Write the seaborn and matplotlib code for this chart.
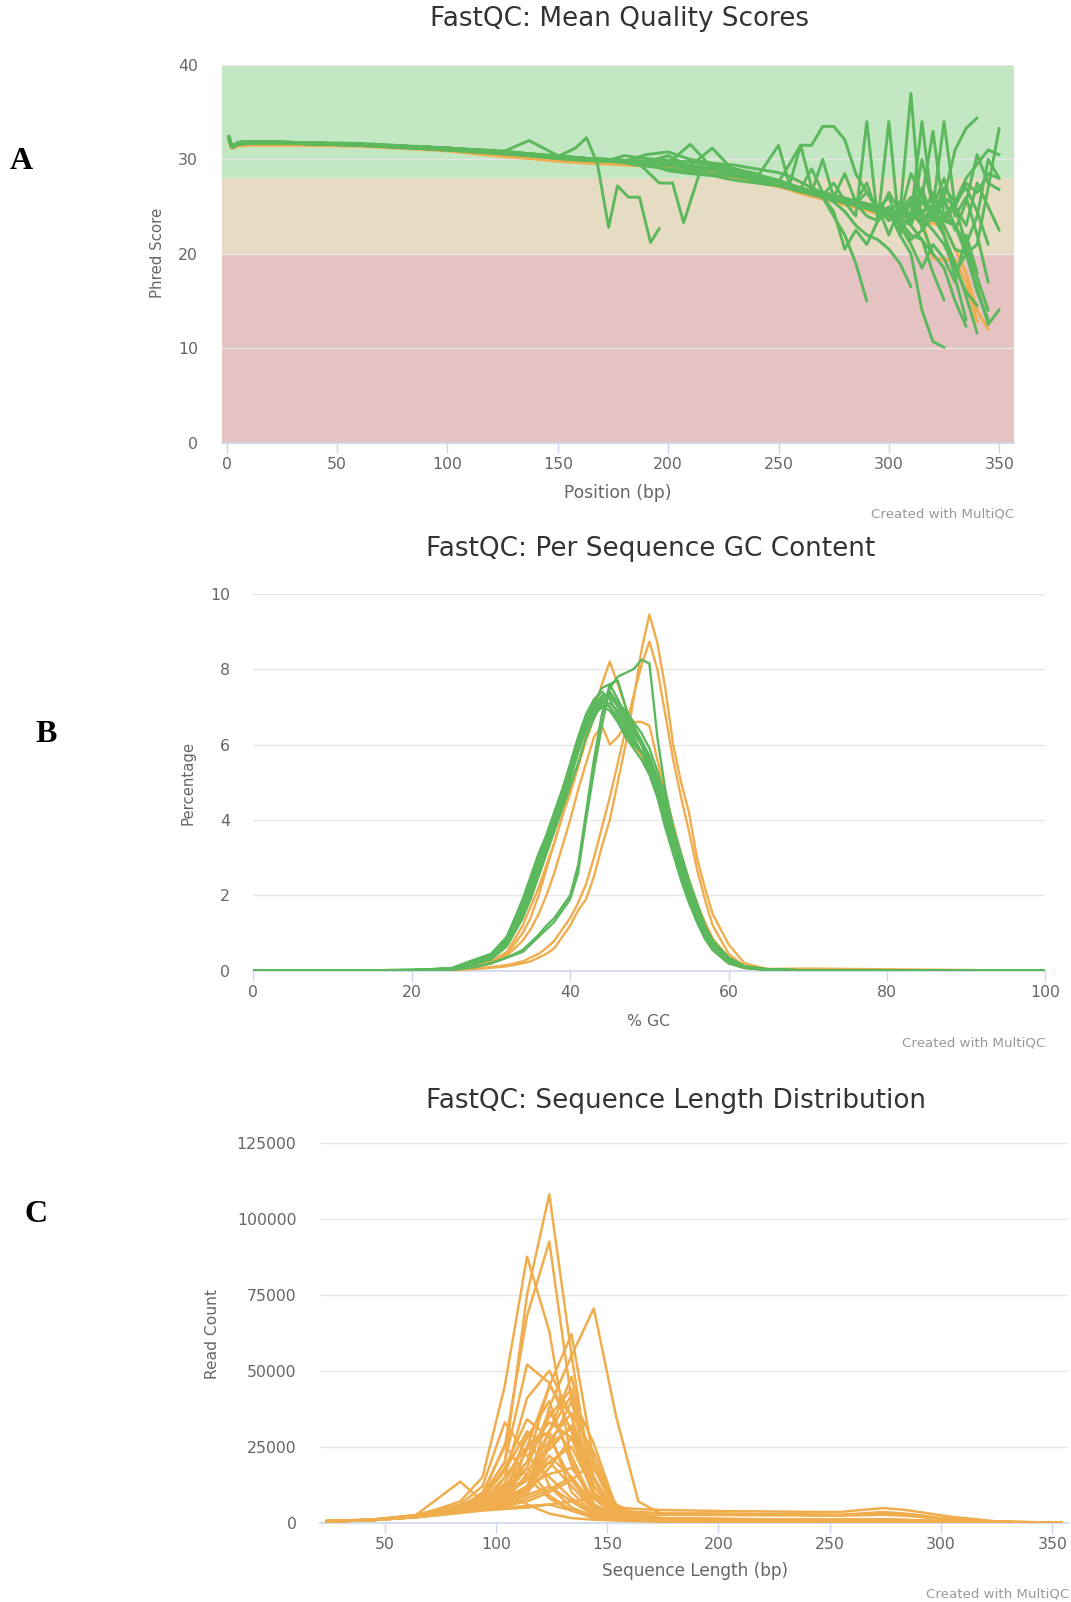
import matplotlib
matplotlib.use("Agg")
import matplotlib.pyplot as plt
import seaborn as sns
import pandas as pd

sns.set_theme(style="white")
plt.rcParams['font.family'] = ['DejaVu Sans']

GREEN = "#5cb85c"
ORANGE = "#f0ad4e"

# ---------------- Panel A: mean quality scores ----------------
A_X = [1, 2, 3, 5, 10, 30, 60, 100, 125, 137,
       150, 163, 173, 180, 190, 200, 210, 220, 230, 240,
       250, 255, 260, 265, 270, 275, 280, 285, 290, 295,
       300, 305, 310, 315, 320, 325, 330, 335, 340, 345, 350]

qa_g01_x = [1, 2, 3, 5, 10, 30, 60, 100, 125, 137, 150, 158, 163, 168, 173, 177, 182, 187, 192, 196]
qa_g01 = [32.4, 31.5, 31.3, 31.7, 31.8, 31.8, 31.6, 31.2, 30.8, 30.6, 30.3, 31.2, 32.3, 29.5, 22.8, 27.2, 26.0, 26.0, 21.2, 22.7]
qa_g02_x = [1, 2, 3, 5, 10, 30, 60, 100, 125, 137, 150, 163, 175, 188, 192, 196, 202, 207, 214, 220,
            230, 240, 250, 255, 260, 265, 270, 275, 280, 285, 290, 295, 300, 305, 310, 315, 320, 325, 330, 335, 340]
qa_g02 = [32.2, 31.4, 31.5, 31.8, 31.9, 31.8, 31.6, 31.2, 30.9, 30.6,
          30.4, 30.1, 29.9, 29.3, 28.4, 27.5, 27.5, 23.3, 28.4, 29.6,
          29.0, 28.4, 27.8, 27.4, 27.0, 26.6, 26.3, 26.0, 25.7, 25.4,
          25.0, 24.6, 24.3, 24.0, 25.2, 23.8, 22.5, 21.0, 18.5, 16.0, 14.5]

qa_g03 = [32.5, 31.6, 31.3, 31.8, 31.9, 31.8, 31.7, 31.2, 30.8, 32.0,
          30.4, 30.1, 30.0, 29.9, 29.8, 29.6, 29.3, 29.1, 28.7, 28.2,
          27.6, 27.3, 26.9, 26.6, 26.3, 26.0, 25.7, 25.4, 25.1, 24.8,
          24.5, 24.3, 37.0, 22.5, 24.0, 25.5, 23.0, 20.5, 16.0, 13.0]
qa_g04 = [32.1, 31.4, 31.5, 31.6, 31.7, 31.7, 31.5, 31.0, 30.6, 30.4,
          30.1, 29.9, 29.8, 29.7, 29.6, 30.4, 29.1, 28.9, 28.5, 28.0,
          27.4, 27.1, 26.7, 26.4, 26.1, 25.8, 25.5, 24.0, 34.0, 23.5,
          24.5, 25.5, 23.0, 26.5, 24.0, 27.0, 25.5, 28.0, 29.5, 31.0, 30.5]
qa_g05 = [32.3, 31.5, 31.4, 31.7, 31.8, 31.7, 31.6, 31.1, 30.7, 30.5,
          30.2, 30.0, 29.9, 29.8, 29.7, 30.4, 29.2, 29.0, 28.6, 28.1,
          27.5, 27.2, 26.8, 26.5, 26.2, 25.9, 25.6, 25.3, 24.0, 23.5,
          34.0, 22.0, 24.5, 23.0, 20.0, 18.5, 15.0, 12.3]
qa_g06 = [32.4, 31.6, 31.4, 31.7, 31.9, 31.8, 31.6, 31.1, 30.8, 30.5,
          30.3, 30.1, 30.0, 29.9, 29.8, 29.6, 31.6, 29.1, 28.7, 28.2,
          27.7, 27.3, 27.0, 26.7, 26.4, 26.1, 25.8, 25.5, 25.2, 24.9,
          24.6, 24.3, 24.0, 34.0, 24.5, 26.0, 25.0, 27.5, 26.5, 28.5, 28.0]
qa_g07 = [32.2, 31.5, 31.3, 31.7, 31.8, 31.7, 31.6, 31.2, 30.7, 30.5,
          30.2, 30.0, 29.9, 29.8, 29.7, 29.5, 29.3, 31.2, 28.7, 28.1,
          27.5, 27.2, 26.8, 26.5, 26.2, 25.9, 25.6, 25.3, 25.0, 24.7,
          24.4, 24.2, 25.5, 26.0, 33.0, 24.0, 25.5, 27.0, 24.5, 21.0]
qa_g08 = [32.3, 31.5, 31.4, 31.6, 31.8, 31.7, 31.6, 31.1, 30.7, 30.5,
          30.2, 30.0, 29.9, 29.8, 30.5, 30.8, 30.0, 29.6, 29.0, 28.4,
          27.5, 27.1, 26.8, 26.5, 26.3, 26.0, 25.8, 25.5, 25.2, 24.9,
          23.5, 24.5, 26.0, 24.5, 25.0, 34.0, 25.0, 23.0, 27.5, 25.0, 22.5]
qa_g09 = [32.4, 31.5, 31.4, 31.7, 31.8, 31.7, 31.6, 31.1, 30.8, 30.6,
          30.3, 30.1, 29.9, 29.8, 29.6, 29.4, 29.2, 28.9, 28.5, 28.0,
          31.5, 27.3, 26.9, 26.6, 26.3, 26.1, 25.8, 25.5, 25.2, 25.0,
          24.7, 24.5, 24.3, 25.5, 24.5, 26.0, 31.0, 33.3, 34.4]
qa_g10 = [32.3, 31.6, 31.4, 31.7, 31.8, 31.7, 31.6, 31.2, 30.8, 30.5,
          30.3, 30.1, 29.9, 29.8, 29.7, 29.5, 29.3, 29.0, 28.7, 28.2,
          27.6, 29.5, 31.5, 31.5, 33.5, 33.5, 32.1, 28.5, 26.5, 25.0,
          24.0, 23.5, 22.0, 21.5, 20.0]
qa_g11 = [32.2, 31.4, 31.3, 31.6, 31.7, 31.7, 31.5, 31.0, 30.6, 30.4,
          30.1, 29.9, 29.8, 29.7, 29.6, 29.4, 29.1, 28.9, 28.5, 28.0,
          27.4, 27.0, 26.6, 26.3, 26.0, 24.0, 22.0, 19.0, 15.0]
qa_g12 = [32.3, 31.5, 31.4, 31.7, 31.8, 31.7, 31.6, 31.1, 30.7, 30.5,
          30.2, 30.0, 29.9, 29.8, 29.7, 29.5, 29.2, 29.0, 28.6, 28.1,
          27.5, 27.1, 26.7, 26.4, 26.1, 25.5, 24.5, 23.0, 22.0, 21.5,
          20.5, 19.0, 16.5]
qa_g13 = [32.4, 31.5, 31.4, 31.8, 31.9, 31.8, 31.6, 31.2, 30.8, 30.6,
          30.3, 30.1, 30.0, 29.8, 29.7, 29.5, 29.3, 29.0, 28.7, 28.2,
          27.6, 27.2, 26.9, 26.6, 26.3, 26.0, 25.7, 25.4, 25.1, 24.8,
          24.5, 22.0, 20.0, 14.0, 10.7, 10.1]
qa_g14 = [32.2, 31.5, 31.3, 31.7, 31.8, 31.7, 31.5, 31.1, 30.7, 30.4,
          30.2, 30.0, 29.9, 29.8, 29.6, 28.8, 28.5, 28.3, 27.8, 27.5,
          27.2, 26.9, 26.6, 26.4, 26.1, 25.8, 25.5, 25.2, 24.8, 24.5,
          24.2, 23.8, 23.0, 21.5, 18.0, 15.1]
qa_g15 = [32.3, 31.5, 31.4, 31.7, 31.8, 31.7, 31.6, 31.1, 30.7, 30.5,
          30.2, 30.0, 29.9, 29.8, 29.7, 29.5, 29.2, 29.0, 28.6, 28.1,
          27.5, 27.2, 26.8, 26.6, 26.3, 26.0, 25.7, 25.4, 25.1, 24.8,
          24.5, 24.2, 24.0, 24.5, 25.0, 24.0, 23.0, 20.0, 16.5, 12.5, 14.1]
qa_g16 = [32.4, 31.6, 31.4, 31.7, 31.9, 31.8, 31.6, 31.2, 30.8, 30.5,
          30.3, 30.0, 29.9, 29.8, 29.7, 29.5, 29.8, 29.6, 29.4, 29.0,
          28.6, 28.2, 27.6, 27.0, 26.2, 26.0, 25.7, 25.4, 25.1, 24.8,
          24.6, 24.4, 24.3, 25.5, 24.0, 22.0, 19.0, 15.5, 11.6]
qa_g17 = [32.3, 31.5, 31.4, 31.7, 31.8, 31.7, 31.6, 31.1, 30.7, 30.5,
          30.2, 30.0, 29.9, 29.8, 29.7, 29.5, 29.2, 29.0, 28.6, 28.1,
          27.5, 27.2, 26.9, 29.0, 26.5, 26.2, 25.9, 25.6, 25.3, 25.0,
          22.0, 25.0, 24.0, 27.0, 23.5, 26.0, 22.5, 25.5, 30.5, 27.5, 26.8]
qa_g18 = [32.2, 31.5, 31.3, 31.7, 31.8, 31.7, 31.6, 31.1, 30.7, 30.5,
          30.2, 30.0, 29.9, 29.8, 29.7, 29.5, 29.2, 29.0, 28.6, 28.1,
          27.5, 27.2, 26.8, 26.5, 26.2, 27.5, 25.6, 25.3, 26.5, 24.7,
          24.4, 24.2, 24.0, 23.5, 25.0, 23.0, 20.5, 20.0, 21.0, 27.0, 33.3]
qa_g19 = [32.3, 31.5, 31.4, 31.7, 31.8, 31.7, 31.6, 31.1, 30.7, 30.5,
          30.2, 30.0, 29.9, 29.8, 29.3, 29.0, 28.8, 28.5, 28.2, 27.8,
          27.3, 27.0, 26.8, 26.5, 26.2, 25.9, 25.6, 25.3, 25.0, 24.7,
          24.4, 23.0, 21.5, 22.5, 25.5, 22.0, 18.0, 20.0, 16.0, 13.0]
qa_g20 = [32.3, 31.5, 31.4, 31.7, 31.8, 31.7, 31.6, 31.1, 30.7, 30.5,
          30.2, 30.0, 29.9, 29.8, 29.7, 29.5, 29.2, 29.0, 28.6, 28.1,
          27.5, 27.2, 26.8, 26.5, 26.0, 24.5, 20.5, 22.5, 21.0, 23.5,
          25.0, 24.0, 28.5, 26.0, 24.0, 22.0, 17.5, 13.0]
qa_g21 = [32.4, 31.5, 31.4, 31.7, 31.8, 31.7, 31.6, 31.1, 30.7, 30.5,
          30.2, 30.0, 29.9, 30.4, 30.1, 29.9, 29.7, 29.4, 29.0, 28.5,
          27.5, 27.2, 26.8, 26.5, 30.0, 26.0, 28.5, 25.5, 27.5, 24.0,
          26.5, 24.5, 23.5, 30.0, 25.0, 28.0, 24.0, 26.0, 22.0, 17.0]
qa_g22 = [32.3, 31.5, 31.4, 31.7, 31.8, 31.7, 31.6, 31.1, 30.7, 30.5,
          30.2, 30.0, 29.9, 29.8, 29.7, 29.5, 29.2, 29.0, 28.6, 28.1,
          27.5, 27.2, 26.8, 26.5, 26.2, 25.9, 25.6, 25.3, 25.0, 24.8,
          26.0, 23.0, 25.5, 24.0, 26.5, 23.5, 25.0, 21.0, 24.0, 30.0, 28.0]
qa_g23 = [32.2, 31.4, 31.3, 31.6, 31.7, 31.7, 31.5, 31.0, 30.6, 30.4,
          30.1, 29.9, 29.8, 29.7, 29.6, 29.4, 29.1, 28.9, 28.5, 28.0,
          27.4, 27.0, 26.7, 26.3, 26.0, 25.7, 25.4, 25.1, 24.8, 24.5,
          24.2, 23.0, 21.0, 18.5, 21.0, 19.5, 17.0, 22.0, 18.0]
qa_g24 = [32.4, 31.6, 31.4, 31.7, 31.9, 31.8, 31.6, 31.2, 30.8, 30.6,
          30.3, 30.1, 30.0, 29.9, 29.8, 29.6, 29.3, 29.1, 28.7, 28.2,
          27.6, 27.3, 31.5, 27.0, 26.5, 26.2, 25.9, 25.6, 25.3, 25.0,
          24.7, 24.4, 24.2, 24.0, 23.8, 23.5, 23.0, 21.0, 17.5, 14.0]

qa_o01 = [32.0, 31.3, 31.2, 31.5, 31.6, 31.6, 31.5, 31.0, 30.4, 30.2,
          29.9, 29.7, 29.6, 29.5, 29.4, 29.2, 28.9, 28.6, 28.2, 27.7,
          27.2, 26.9, 26.5, 26.2, 25.9, 25.6, 25.3, 25.0, 24.7, 24.3,
          24.0, 24.1, 24.3, 23.6, 19.5, 19.4, 19.3, 17.0, 12.8]
qa_o02 = [32.0, 31.2, 31.2, 31.4, 31.5, 31.5, 31.4, 30.9, 30.3, 30.1,
          29.8, 29.6, 29.5, 29.4, 29.3, 29.1, 28.8, 28.5, 28.1, 27.6,
          27.1, 26.8, 26.4, 26.1, 25.8, 25.5, 25.2, 24.9, 24.6, 24.2,
          23.9, 23.8, 24.0, 23.5, 23.2, 22.9, 20.5, 18.0, 14.0, 12.0]

A_TICKS_X = [0, 50, 100, 150, 200, 250, 300, 350]
A_TICKS_Y = [0, 10, 20, 30, 40]
A_BANDS = [(28, 40, "#c3e6c3"), (20, 28, "#e6dcc3"), (0, 20, "#e6c3c3")]

# ---------------- Panel B: per sequence GC content ----------------
B_X = [0, 20, 25, 28, 30, 32,
       34, 35, 36, 37, 38, 39, 40, 41, 42, 43, 44, 45, 46, 47, 48, 49, 50,
       51, 52, 53, 54, 55, 56, 57, 58,
       60, 62, 65, 70, 100]

gc_g01 = [0, 0.02, 0.06, 0.25, 0.4, 0.8,
          1.7, 2.3, 2.9, 3.4, 4.0, 4.6, 5.3, 6.0, 6.6, 7.0, 7.3, 7.3, 7.0, 6.7, 6.4, 6.1, 5.6,
          5.0, 4.2, 3.5, 2.7, 2.1, 1.5, 1.0, 0.65,
          0.25, 0.1, 0.03, 0.01, 0]
gc_g02 = [0, 0.02, 0.05, 0.2, 0.35, 0.7,
          1.5, 2.1, 2.7, 3.3, 3.9, 4.5, 5.1, 5.8, 6.4, 6.9, 7.2, 7.4, 7.1, 6.8, 6.5, 6.1, 5.7,
          5.1, 4.4, 3.6, 2.9, 2.2, 1.6, 1.1, 0.7,
          0.3, 0.1, 0.03, 0.01, 0]
gc_g03 = [0, 0.02, 0.07, 0.3, 0.45, 0.9,
          1.9, 2.5, 3.1, 3.6, 4.2, 4.8, 5.5, 6.2, 6.8, 7.2, 7.4, 7.2, 6.8, 6.5, 6.2, 5.8, 5.3,
          4.7, 3.9, 3.2, 2.5, 1.9, 1.3, 0.9, 0.55,
          0.2, 0.08, 0.02, 0.01, 0]
gc_g04 = [0, 0.01, 0.05, 0.2, 0.35, 0.75,
          1.6, 2.2, 2.8, 3.3, 3.9, 4.5, 5.2, 5.9, 6.5, 6.9, 7.1, 7.0, 6.7, 6.4, 6.1, 5.8, 5.4,
          4.9, 4.2, 3.5, 2.8, 2.2, 1.6, 1.1, 0.7,
          0.3, 0.1, 0.03, 0.01, 0]
gc_g05 = [0, 0.02, 0.06, 0.25, 0.4, 0.85,
          1.8, 2.4, 3.0, 3.6, 4.2, 4.8, 5.4, 6.0, 6.5, 6.8, 7.0, 6.9, 6.6, 6.3, 6.0, 5.8, 5.5,
          5.0, 4.3, 3.6, 2.9, 2.3, 1.7, 1.2, 0.8,
          0.35, 0.12, 0.04, 0.01, 0]
gc_g06 = [0, 0.02, 0.05, 0.22, 0.38, 0.7,
          1.4, 2.0, 2.6, 3.2, 3.8, 4.4, 5.1, 5.8, 6.5, 7.1, 7.5, 7.6, 7.2, 6.8, 6.4, 6.0, 5.5,
          4.9, 4.1, 3.4, 2.6, 2.0, 1.4, 0.95, 0.6,
          0.25, 0.09, 0.03, 0.01, 0]
gc_g07 = [0, 0.02, 0.06, 0.3, 0.42, 0.9,
          1.8, 2.4, 3.0, 3.5, 4.1, 4.7, 5.4, 6.1, 6.7, 7.1, 7.2, 7.0, 6.6, 6.2, 5.9, 5.6, 5.2,
          4.6, 3.8, 3.1, 2.4, 1.8, 1.3, 0.85, 0.55,
          0.2, 0.08, 0.02, 0.01, 0]
gc_g08 = [0, 0.01, 0.04, 0.18, 0.3, 0.65,
          1.4, 1.9, 2.5, 3.1, 3.7, 4.3, 4.9, 5.5, 6.2, 6.7, 7.1, 7.3, 7.1, 6.9, 6.6, 6.3, 5.9,
          5.3, 4.6, 3.8, 3.1, 2.4, 1.8, 1.2, 0.8,
          0.35, 0.12, 0.04, 0.01, 0]
gc_g09 = [0, 0.02, 0.06, 0.28, 0.4, 0.8,
          1.7, 2.3, 2.9, 3.5, 4.1, 4.7, 5.3, 5.9, 6.4, 6.8, 7.0, 7.1, 6.9, 6.6, 6.3, 6.0, 5.6,
          5.1, 4.4, 3.7, 3.0, 2.3, 1.7, 1.1, 0.7,
          0.3, 0.1, 0.03, 0.01, 0]
gc_g10 = [0, 0.01, 0.03, 0.1, 0.2, 0.35,
          0.5, 0.7, 0.9, 1.1, 1.3, 1.6, 1.9, 2.6, 4.0, 5.3, 6.5, 7.5, 7.8, 7.9, 8.0, 8.25, 8.15,
          6.2, 4.8, 3.8, 2.9, 2.2, 1.6, 1.1, 0.7,
          0.3, 0.1, 0.03, 0.01, 0]
gc_g11 = [0, 0.01, 0.03, 0.1, 0.2, 0.35,
          0.55, 0.75, 0.95, 1.2, 1.4, 1.7, 2.0, 2.8, 4.2, 5.6, 6.8, 7.6, 7.7, 7.0, 6.4, 6.0, 5.5,
          4.8, 4.0, 3.3, 2.6, 2.0, 1.4, 0.95, 0.6,
          0.25, 0.08, 0.02, 0.01, 0]

gc_o01 = [0, 0.01, 0.02, 0.05, 0.08, 0.12,
          0.2, 0.25, 0.35, 0.45, 0.6, 0.9, 1.2, 1.6, 1.9, 2.5, 3.3, 4.0, 5.0, 6.0, 7.2, 8.5, 9.45,
          8.7, 7.5, 6.0, 5.0, 4.2, 3.0, 2.2, 1.5,
          0.7, 0.2, 0.04, 0.02, 0]
gc_o02 = [0, 0.01, 0.02, 0.05, 0.1, 0.15,
          0.25, 0.35, 0.45, 0.6, 0.8, 1.1, 1.4, 1.8, 2.3, 3.0, 3.8, 4.6, 5.5, 6.4, 7.3, 8.1, 8.73,
          8.0, 6.8, 5.6, 4.6, 3.7, 2.7, 1.9, 1.2,
          0.45, 0.12, 0.03, 0.02, 0]
gc_o03 = [0, 0.01, 0.04, 0.15, 0.25, 0.5,
          1.2, 1.7, 2.2, 2.8, 3.4, 4.1, 4.8, 5.5, 6.2, 6.9, 7.6, 8.2, 7.6, 7.0, 6.5, 6.0, 5.5,
          4.8, 4.0, 3.3, 2.6, 2.0, 1.4, 0.9, 0.6,
          0.2, 0.07, 0.02, 0.01, 0]
gc_o04 = [0, 0.01, 0.03, 0.1, 0.2, 0.4,
          0.8, 1.1, 1.5, 2.0, 2.6, 3.3, 4.0, 4.8, 5.5, 6.2, 6.5, 6.0, 6.2, 6.5, 6.6, 6.6, 6.5,
          5.6, 4.7, 3.9, 3.1, 2.4, 1.8, 1.3, 0.85,
          0.35, 0.1, 0.03, 0.01, 0]
gc_o05 = [0, 0.01, 0.03, 0.12, 0.2, 0.45,
          1.0, 1.4, 2.0, 2.7, 3.4, 4.1, 4.7, 5.4, 6.1, 6.7, 7.2, 7.0, 6.7, 6.3, 6.0, 5.7, 5.3,
          4.7, 4.0, 3.3, 2.6, 2.0, 1.4, 0.95, 0.6,
          0.22, 0.08, 0.05, 0.06, 0]

B_TICKS_X = [0, 20, 40, 60, 80, 100]
B_TICKS_Y = [0, 2, 4, 6, 8, 10]

# ---------------- Panel C: sequence length distribution ----------------
C_X = [24, 44, 64, 74, 84, 94, 104, 114, 124, 134, 144, 154, 164, 174, 204, 254, 274, 284, 304, 324, 354]

sl_01 = [500, 900, 2200, 3500, 5500, 9000, 20000, 75000, 108000, 55000, 8000, 2500, 1500, 1000, 700, 500, 600, 400, 200, 50, 0]
sl_02 = [400, 800, 2000, 3000, 5000, 10000, 25000, 68000, 92500, 40000, 10000, 3000, 1800, 1200, 900, 700, 800, 600, 300, 80, 0]
sl_03 = [600, 1000, 2500, 4500, 7000, 15000, 45000, 87500, 63000, 20000, 5000, 2000, 1200, 900, 700, 500, 500, 400, 200, 50, 0]
sl_04 = [500, 900, 2000, 3000, 4000, 6000, 8000, 10000, 38000, 55000, 70500, 35000, 7000, 3000, 2800, 2500, 3000, 2500, 1200, 300, 0]
sl_05 = [400, 800, 1800, 2800, 4000, 5000, 5000, 25000, 45000, 62000, 20000, 3000, 1500, 1000, 800, 600, 700, 500, 250, 60, 0]
sl_06 = [500, 900, 2100, 3200, 5000, 8000, 20000, 52000, 46000, 30000, 8000, 2000, 1200, 800, 600, 500, 500, 400, 200, 50, 0]
sl_07 = [450, 850, 2000, 3000, 4500, 5000, 15000, 41000, 50000, 35000, 10000, 2500, 1500, 1000, 800, 600, 700, 500, 250, 50, 0]
sl_08 = [500, 900, 2300, 4000, 6000, 12000, 33000, 22000, 15000, 8000, 3000, 1500, 1000, 700, 500, 400, 400, 300, 150, 40, 0]
sl_09 = [600, 1000, 2500, 8000, 13500, 7000, 15000, 25000, 30000, 10000, 3000, 1500, 1000, 800, 600, 500, 500, 400, 200, 50, 0]
sl_10 = [400, 800, 1800, 2500, 3500, 5000, 6000, 12000, 30000, 48000, 15000, 3000, 1500, 1000, 800, 600, 700, 500, 250, 60, 0]
sl_11 = [500, 900, 2000, 3000, 4500, 7000, 10000, 20000, 45000, 35000, 9000, 2500, 1500, 1000, 800, 600, 600, 500, 250, 50, 0]
sl_12 = [450, 850, 1900, 2800, 4000, 5500, 7000, 9000, 25000, 40000, 20000, 4000, 2000, 1500, 1200, 1000, 1100, 900, 400, 100, 0]
sl_13 = [500, 900, 2100, 3100, 4500, 6000, 9000, 18000, 37000, 22000, 6000, 2000, 1200, 800, 600, 500, 500, 400, 200, 50, 0]
sl_14 = [500, 900, 2000, 3000, 4500, 8000, 17000, 30000, 12000, 5000, 2000, 1200, 800, 600, 500, 400, 400, 300, 150, 40, 0]
sl_15 = [450, 850, 1900, 2800, 4000, 5000, 6000, 10000, 18000, 28000, 12000, 3000, 1500, 1000, 800, 600, 600, 500, 250, 50, 0]
sl_16 = [500, 900, 2100, 3200, 4800, 9000, 25700, 15000, 8000, 4000, 2000, 1200, 800, 600, 500, 400, 400, 300, 150, 40, 0]
sl_17 = [500, 900, 2000, 3000, 4000, 5500, 8000, 12000, 22000, 15000, 5000, 1800, 1000, 700, 500, 400, 400, 300, 150, 40, 0]
sl_18 = [400, 800, 1800, 2600, 3500, 4500, 5500, 7000, 10000, 14000, 20000, 6000, 2500, 1500, 1200, 1000, 1100, 900, 400, 100, 0]
sl_19 = [500, 900, 2000, 3000, 4500, 7000, 11000, 18000, 9000, 4000, 1500, 1000, 700, 500, 400, 300, 300, 200, 100, 30, 0]
sl_20 = [450, 850, 1900, 2800, 3800, 5000, 6000, 8000, 11000, 15000, 6000, 2000, 1200, 800, 600, 500, 500, 400, 200, 50, 0]
sl_21 = [500, 900, 2000, 2900, 4000, 5000, 7000, 9000, 12000, 7000, 2500, 1200, 800, 600, 500, 400, 400, 300, 150, 40, 0]
sl_22 = [500, 900, 2100, 3000, 4500, 7000, 10000, 6000, 3000, 1500, 1000, 700, 500, 400, 300, 300, 300, 200, 100, 30, 0]
sl_23 = [400, 800, 1800, 2500, 3200, 4000, 4500, 5000, 6000, 7000, 8000, 3000, 1500, 1000, 800, 700, 800, 600, 300, 80, 0]
sl_24 = [450, 850, 1900, 2700, 3500, 4200, 5000, 5500, 6000, 4000, 2000, 1000, 700, 500, 400, 300, 300, 200, 100, 30, 0]
sl_25 = [500, 900, 2200, 3300, 4800, 6500, 9000, 14000, 26000, 31000, 12000, 5000, 4500, 4200, 3800, 3500, 4800, 4200, 2000, 500, 0]
sl_26 = [500, 900, 2100, 3000, 4300, 6000, 8000, 11000, 20000, 25000, 10000, 4000, 3500, 3200, 3000, 2600, 3500, 3000, 1200, 300, 0]
sl_27 = [450, 850, 2000, 2900, 4000, 5500, 7500, 12000, 16000, 18000, 8000, 3000, 2800, 2600, 2500, 2300, 2600, 2300, 1000, 250, 0]
sl_28 = [500, 900, 2100, 3100, 4500, 6500, 11000, 24000, 33000, 28000, 9000, 2500, 1500, 1000, 800, 700, 700, 600, 300, 80, 0]
sl_29 = [500, 900, 2000, 3000, 4400, 6000, 13000, 28000, 40000, 19000, 6000, 2000, 1200, 900, 700, 600, 600, 500, 250, 60, 0]
sl_30 = [450, 850, 1900, 2800, 4000, 5000, 7000, 16000, 30000, 42000, 26000, 5000, 2000, 1500, 1200, 1000, 1000, 900, 400, 100, 0]
sl_31 = [500, 900, 2000, 3000, 4200, 6500, 12000, 20000, 35000, 44000, 14000, 3000, 1500, 1000, 800, 600, 600, 500, 250, 60, 0]
sl_32 = [450, 850, 1900, 2700, 3800, 5500, 9000, 30000, 24000, 32000, 18000, 3500, 1500, 1000, 800, 600, 700, 500, 250, 60, 0]
sl_33 = [500, 900, 2100, 3000, 4500, 7500, 18000, 34000, 28000, 14000, 4000, 1500, 1000, 700, 500, 400, 400, 300, 150, 40, 0]
sl_34 = [450, 850, 1900, 2800, 4000, 5000, 7000, 11000, 27000, 36000, 23000, 4500, 1800, 1200, 900, 700, 800, 600, 300, 80, 0]
sl_35 = [500, 900, 2000, 3000, 4500, 6000, 9500, 15000, 20000, 12000, 4000, 1500, 1000, 700, 500, 400, 400, 300, 150, 40, 0]

C_TICKS_X = [50, 100, 150, 200, 250, 300, 350]
C_TICKS_Y = [0, 25000, 50000, 75000, 100000, 125000]

# ---------------- helpers ----------------
W, H = 1071, 1602


def long_frame(series):
    rows = []
    for name, xs, ys in series:
        assert len(ys) <= len(xs), name
        for x, y in zip(xs, ys):
            rows.append({"series": name, "x": x, "y": y})
    return pd.DataFrame(rows)


def box(left, top, right, bottom):
    return [left / W, 1 - bottom / H, (right - left) / W, (bottom - top) / H]


def ftext(x, y, s, **kw):
    fig.text(x / W, 1 - y / H, s, **kw)


def draw(ax, df, color, lw):
    sns.lineplot(data=df, x="x", y="y", units="series", estimator=None, sort=False,
                 color=color, lw=lw, ax=ax, legend=False, zorder=3)


TICK_C = "#666666"
AXIS_C = "#ccd6eb"
GRID_C = "#e6e6e6"

fig = plt.figure(figsize=(W / 100, H / 100), dpi=100)

# ---------- A ----------
axA = fig.add_axes(box(221.7, 65, 1014, 442.7))
for lo, hi, c in A_BANDS:
    axA.axhspan(lo, hi, color=c, lw=0, zorder=0)
for yv in A_TICKS_Y[1:]:
    axA.axhline(yv, color=GRID_C, lw=1, zorder=1)

a_orange = [("o01", A_X, qa_o01), ("o02", A_X, qa_o02)]
a_green = [("g01", qa_g01_x, qa_g01), ("g02", qa_g02_x, qa_g02),
           ("g03", A_X, qa_g03), ("g04", A_X, qa_g04), ("g05", A_X, qa_g05),
           ("g06", A_X, qa_g06), ("g07", A_X, qa_g07), ("g08", A_X, qa_g08),
           ("g09", A_X, qa_g09), ("g10", A_X, qa_g10), ("g11", A_X, qa_g11),
           ("g12", A_X, qa_g12), ("g13", A_X, qa_g13), ("g14", A_X, qa_g14),
           ("g15", A_X, qa_g15), ("g16", A_X, qa_g16), ("g17", A_X, qa_g17),
           ("g18", A_X, qa_g18), ("g19", A_X, qa_g19), ("g20", A_X, qa_g20),
           ("g21", A_X, qa_g21), ("g22", A_X, qa_g22), ("g23", A_X, qa_g23),
           ("g24", A_X, qa_g24)]
draw(axA, long_frame(a_orange), ORANGE, 2.1)
draw(axA, long_frame(a_green), GREEN, 2.1)
axA.set_xlim(-2.3, 356.7)
axA.set_ylim(0, 40)
axA.set_xticks(A_TICKS_X)
axA.set_yticks(A_TICKS_Y)

# ---------- B ----------
axB = fig.add_axes(box(253.4, 593.7, 1045.4, 970.8))
b_orange = [("o01", B_X, gc_o01), ("o02", B_X, gc_o02), ("o03", B_X, gc_o03),
            ("o04", B_X, gc_o04), ("o05", B_X, gc_o05)]
b_green = [("g01", B_X, gc_g01), ("g02", B_X, gc_g02), ("g03", B_X, gc_g03),
           ("g04", B_X, gc_g04), ("g05", B_X, gc_g05), ("g06", B_X, gc_g06),
           ("g07", B_X, gc_g07), ("g08", B_X, gc_g08), ("g09", B_X, gc_g09),
           ("g10", B_X, gc_g10), ("g11", B_X, gc_g11)]
draw(axB, long_frame(b_orange), ORANGE, 1.7)
draw(axB, long_frame(b_green), GREEN, 1.7)
axB.set_xlim(0, 100)
axB.set_ylim(0, 10)
axB.set_xticks(B_TICKS_X)
axB.set_yticks(B_TICKS_Y)
for yv in B_TICKS_Y[1:]:
    axB.axhline(yv, color=GRID_C, lw=1, zorder=1)

# ---------- C ----------
axC = fig.add_axes(box(320, 1142.7, 1068, 1522.7))
c_series = [("s%02d" % (i + 1), C_X, s) for i, s in enumerate(
    [sl_01, sl_02, sl_03, sl_04, sl_05, sl_06, sl_07, sl_08, sl_09, sl_10,
     sl_11, sl_12, sl_13, sl_14, sl_15, sl_16, sl_17, sl_18, sl_19, sl_20,
     sl_21, sl_22, sl_23, sl_24, sl_25, sl_26, sl_27, sl_28, sl_29, sl_30,
     sl_31, sl_32, sl_33, sl_34, sl_35])]
draw(axC, long_frame(c_series), ORANGE, 1.8)
axC.set_xlim(21, 357)
axC.set_ylim(0, 125000)
axC.set_xticks(C_TICKS_X)
axC.set_yticks(C_TICKS_Y)
axC.set_yticklabels([str(v) for v in C_TICKS_Y])
for yv in C_TICKS_Y[1:]:
    axC.axhline(yv, color=GRID_C, lw=1, zorder=1)

for ax in (axA, axB, axC):
    ax.set_facecolor("none")
    ax.set_xlabel("")
    ax.set_ylabel("")
    for side in ("top", "right", "left"):
        ax.spines[side].set_visible(False)
    ax.spines["bottom"].set_color(AXIS_C)
    ax.spines["bottom"].set_linewidth(1.2)
    ax.spines["bottom"].set_zorder(2)
    ax.tick_params(axis="x", colors=AXIS_C, labelcolor=TICK_C, length=7, width=1,
                   direction="out", pad=3, labelsize=11.3, bottom=True)
    ax.tick_params(axis="y", length=0, pad=17, labelcolor=TICK_C, labelsize=11.3, left=False)
    ax.grid(False)

# ---------- texts ----------
TITLE_C = "#333333"
LAB_C = "#666666"
CRED_C = "#999999"
ftext(619.5, 19.5, "FastQC: Mean Quality Scores", ha="center", va="center", fontsize=18.9, color=TITLE_C)
ftext(651, 549.5, "FastQC: Per Sequence GC Content", ha="center", va="center", fontsize=18.9, color=TITLE_C)
ftext(675.5, 1100.5, "FastQC: Sequence Length Distribution", ha="center", va="center", fontsize=18.9, color=TITLE_C)

ftext(158, 253, "Phred Score", rotation=90, ha="center", va="center", fontsize=10.8, color=LAB_C)
ftext(618, 493, "Position (bp)", ha="center", va="center", fontsize=12.3, color=LAB_C)
ftext(188, 783, "Percentage", rotation=90, ha="center", va="center", fontsize=10.7, color=LAB_C)
ftext(649, 1021, "% GC", ha="center", va="center", fontsize=11.3, color=LAB_C)
ftext(212.6, 1334, "Read Count", rotation=90, ha="center", va="center", fontsize=11.2, color=LAB_C)
ftext(695, 1571, "Sequence Length (bp)", ha="center", va="center", fontsize=12.2, color=LAB_C)

ftext(1014, 514, "Created with MultiQC", ha="right", va="center", fontsize=9.6, color=CRED_C)
ftext(1045.4, 1043.4, "Created with MultiQC", ha="right", va="center", fontsize=9.6, color=CRED_C)
ftext(1069, 1594, "Created with MultiQC", ha="right", va="center", fontsize=9.6, color=CRED_C)

for x, y, s in [(21.3, 161.2, "A"), (46, 734.7, "B"), (35.8, 1215, "C")]:
    ftext(x, y, s, ha="center", va="center", fontsize=23, fontweight="bold",
          family=["Liberation Serif", "DejaVu Serif"], color="black")

fig.savefig("out.png", dpi=100, facecolor="white")
